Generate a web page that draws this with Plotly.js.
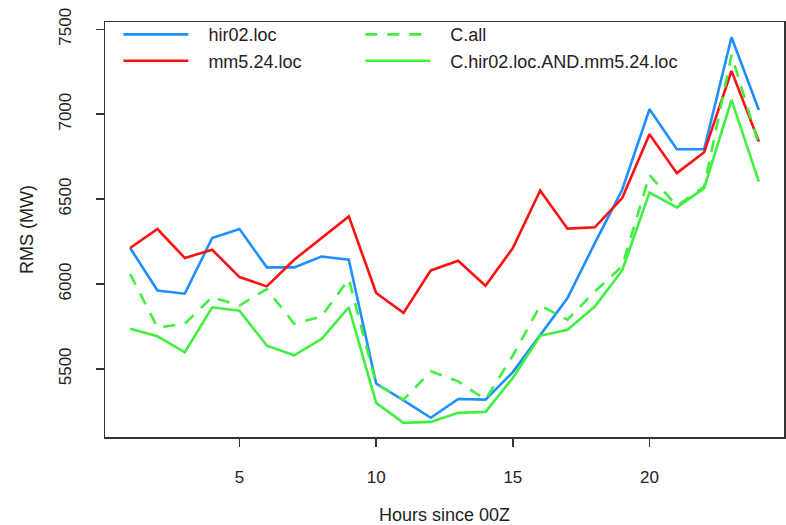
<!DOCTYPE html>
<html>
<head>
<meta charset="utf-8">
<script src="https://cdn.plot.ly/plotly-3.0.1.min.js"></script>
<style>
  html, body { margin: 0; padding: 0; background: #ffffff; }
  #chart { width: 786px; height: 525px; }
</style>
</head>
<body>
<div id="chart"></div>
<script>
// Hours since 00Z
const hours = [1,2,3,4,5,6,7,8,9,10,11,12,13,14,15,16,17,18,19,20,21,22,23,24];

// RMS (MW) per series
const hir02_loc = [6212,5962,5943,6271,6324,6098,6098,6162,6143,5414,5315,5212,5323,5319,5481,5701,5917,6241,6555,7029,6794,6794,7453,7025];
const mm5_24_loc = [6212,6324,6153,6202,6041,5986,6143,6271,6398,5947,5830,6080,6137,5990,6212,6551,6326,6334,6506,6882,6653,6776,7255,6839];
const C_all = [6059,5744,5766,5923,5873,5970,5766,5809,6029,5410,5319,5486,5427,5319,5579,5873,5790,5956,6104,6642,6460,6574,7349,6819];
const C_hir02_AND_mm5 = [5737,5692,5598,5863,5843,5637,5580,5676,5863,5300,5182,5188,5241,5247,5447,5695,5731,5867,6080,6538,6451,6565,7084,6603];

const seriesNames = ["hir02.loc", "mm5.24.loc", "C.all", "C.hir02.loc.AND.mm5.24.loc"];
const xTicks = [5, 10, 15, 20];
const yTicks = [5500, 6000, 6500, 7000, 7500];

const FONT = "Liberation Sans, Arial, Helvetica, sans-serif";
const TXT = "#222222";
const PAD = "\u00a0\u00a0\u00a0"; // gap between legend sample line and its label

const traces = [
  {x: hours, y: hir02_loc, name: PAD + seriesNames[0], legend: "legend",
   line: {color: "#1E8FFF", width: 2.6}},
  {x: hours, y: mm5_24_loc, name: PAD + seriesNames[1], legend: "legend",
   line: {color: "#FF1010", width: 2.6}},
  {x: hours, y: C_all, name: PAD + seriesNames[2], legend: "legend2",
   line: {color: "#40F040", width: 2.6, dash: "12px,10px"}},
  {x: hours, y: C_hir02_AND_mm5, name: PAD + seriesNames[3], legend: "legend2",
   line: {color: "#40F040", width: 2.6}}
].map(t => Object.assign({type: "scatter", mode: "lines", hoverinfo: "skip"}, t));

const axisCommon = {
  showline: true, linecolor: "#333333", linewidth: 1.5, mirror: true,
  ticks: "outside", ticklen: 8, tickwidth: 1.5, tickcolor: "#333333",
  showgrid: false, zeroline: false, automargin: false,
  tickfont: {family: FONT, size: 17, color: TXT}
};

const legendCommon = {
  orientation: "v", y: 1.014, xanchor: "left", yanchor: "top",
  bgcolor: "rgba(0,0,0,0)", borderwidth: 0,
  font: {family: FONT, size: 18, color: TXT},
  itemwidth: 65, traceorder: "normal", tracegroupgap: 0
};

const layout = {
  width: 786, height: 525,
  paper_bgcolor: "#ffffff", plot_bgcolor: "#ffffff",
  margin: {l: 105, r: 2, t: 22, b: 88},
  font: {family: FONT, size: 17, color: TXT},
  showlegend: true,
  legend: Object.assign({}, legendCommon, {x: 0.0197}),
  legend2: Object.assign({}, legendCommon, {x: 0.376}),
  xaxis: Object.assign({}, axisCommon, {
    range: [0.08, 24.92], tickmode: "array", tickvals: xTicks,
    ticktext: xTicks.map(String), ticklabelstandoff: 16,
    title: {text: "Hours since 00Z", font: {family: FONT, size: 18, color: TXT}, standoff: 22}
  }),
  yaxis: Object.assign({}, axisCommon, {
    range: [5099, 7543], tickmode: "array", tickvals: yTicks,
    ticktext: yTicks.map(String), tickangle: -90, ticklabelstandoff: 18,
    title: {text: "RMS (MW)", font: {family: FONT, size: 18, color: TXT}, standoff: 17}
  })
};

Plotly.newPlot("chart", traces, layout, {staticPlot: true, displayModeBar: false});
</script>
</body>
</html>
